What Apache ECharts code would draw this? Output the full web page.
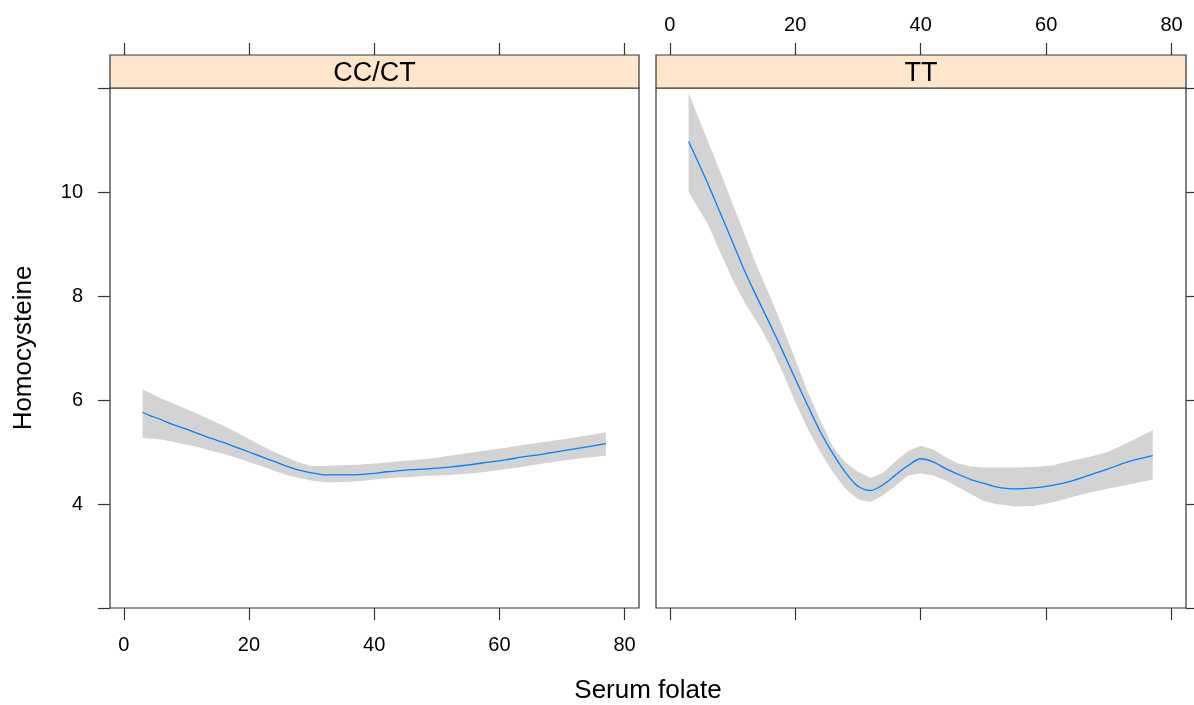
<!DOCTYPE html>
<html>
<head>
<meta charset="utf-8">
<script src="https://cdn.jsdelivr.net/npm/echarts@6/dist/echarts.min.js"></script>
<style>html,body{margin:0;padding:0;background:#fff;}#c{width:1194px;height:705px;}</style>
</head>
<body>
<div id="c"></div>
<script>
var panels = ['CC/CT', 'TT'];
var xTicks = [0, 20, 40, 60, 80];
var yTicks = [2, 4, 6, 8, 10, 12];
var yLabels = [4, 6, 8, 10];
var folateX = [3,4,6,8,10,12,14,16,18,20,22,24,26,28,30,32,34,36,38,40,42,44,46,48,50,52,55,58,61,64,67,70,73,77];
var ccFit   = [5.76,5.71,5.62,5.52,5.44,5.35,5.26,5.18,5.09,5.00,4.91,4.82,4.73,4.65,4.60,4.56,4.56,4.56,4.57,4.59,4.62,4.64,4.66,4.67,4.69,4.71,4.75,4.80,4.85,4.91,4.96,5.02,5.08,5.16];
var ccUpper = [6.20,6.15,6.03,5.93,5.83,5.72,5.61,5.50,5.38,5.25,5.12,5.00,4.90,4.80,4.73,4.73,4.74,4.75,4.76,4.78,4.80,4.82,4.84,4.86,4.89,4.93,4.98,5.03,5.08,5.14,5.19,5.24,5.30,5.38];
var ccLower = [5.27,5.26,5.24,5.19,5.14,5.09,5.02,4.96,4.89,4.81,4.73,4.64,4.56,4.50,4.45,4.42,4.42,4.43,4.44,4.47,4.49,4.51,4.52,4.54,4.55,4.56,4.58,4.62,4.67,4.72,4.78,4.83,4.88,4.93];
var ttFit   = [10.97,10.71,10.18,9.61,9.04,8.46,7.95,7.45,6.94,6.41,5.89,5.39,4.97,4.61,4.34,4.26,4.37,4.56,4.74,4.87,4.81,4.68,4.57,4.47,4.40,4.33,4.29,4.31,4.36,4.44,4.56,4.68,4.81,4.93];
var ttUpper = [11.90,11.60,11.00,10.40,9.78,9.16,8.54,7.99,7.40,6.78,6.16,5.61,5.10,4.80,4.62,4.50,4.60,4.82,5.02,5.12,5.05,4.90,4.78,4.72,4.70,4.70,4.70,4.71,4.74,4.83,4.91,5.01,5.18,5.42];
var ttLower = [10.01,9.80,9.40,8.85,8.32,7.86,7.48,7.05,6.53,5.96,5.44,5.00,4.61,4.30,4.09,4.04,4.17,4.35,4.55,4.59,4.55,4.45,4.32,4.19,4.06,4.00,3.95,3.96,4.03,4.13,4.22,4.30,4.37,4.47];

var FONT = "'Liberation Sans', Arial, sans-serif";
var AX = '#333';
var TXT = '#000';
var X0 = 110, X1 = 656, W0 = 529, W1 = 530, TOP = 88, H = 520, STRIP = 33;

function pairs(xs, ys) { return xs.map(function (x, i) { return [x, ys[i]]; }); }

function bandSeries(idx, lo, hi) {
  return {
    type: 'custom', xAxisIndex: idx, yAxisIndex: idx, silent: true, z: 1,
    data: [0],
    renderItem: function (params, api) {
      var pts = [];
      for (var i = 0; i < folateX.length; i++) pts.push(api.coord([folateX[i], hi[i]]));
      for (var j = folateX.length - 1; j >= 0; j--) pts.push(api.coord([folateX[j], lo[j]]));
      return { type: 'polygon', shape: { points: pts }, style: { fill: '#d3d3d3', stroke: null } };
    }
  };
}
function lineSeries(idx, fit) {
  return {
    type: 'line', xAxisIndex: idx, yAxisIndex: idx, data: pairs(folateX, fit),
    showSymbol: false, smooth: 0.3, z: 3, silent: true,
    lineStyle: { color: '#0080ff', width: 1.3 }
  };
}
function xAxis(grid, pos, labels, offset) {
  return {
    type: 'value', gridIndex: grid, position: pos, offset: offset || 0,
    min: -2.2, max: 82.3,
    axisLine: { show: false, onZero: false },
    splitLine: { show: false },
    axisTick: { show: true, inside: false, length: 12, customValues: xTicks, lineStyle: { color: AX, width: 1.2 } },
    axisLabel: { show: labels, customValues: xTicks, margin: pos === 'top' ? 20 : 27, color: TXT, fontFamily: FONT, fontSize: 20 }
  };
}
function yAxis(grid, pos, labels) {
  return {
    type: 'value', gridIndex: grid, position: pos, min: 2, max: 12,
    axisLine: { show: false, onZero: false },
    splitLine: { show: false },
    axisTick: { show: true, inside: false, length: 12, customValues: yTicks, lineStyle: { color: AX, width: 1.2 } },
    axisLabel: { show: labels, customValues: yLabels, margin: 27, color: TXT, fontFamily: FONT, fontSize: 20 }
  };
}

var chart = echarts.init(document.getElementById('c'), null, { renderer: 'canvas' });
chart.setOption({
  animation: false,
  backgroundColor: '#fff',
  grid: [
    { left: X0, top: TOP, width: W0, height: H, show: true, borderColor: AX, borderWidth: 1.2, backgroundColor: 'transparent' },
    { left: X1, top: TOP, width: W1, height: H, show: true, borderColor: AX, borderWidth: 1.2, backgroundColor: 'transparent' }
  ],
  xAxis: [
    xAxis(0, 'bottom', true),
    xAxis(1, 'bottom', false),
    xAxis(0, 'top', false, STRIP),
    xAxis(1, 'top', true, STRIP)
  ],
  yAxis: [
    yAxis(0, 'left', true),
    yAxis(1, 'right', false)
  ],
  graphic: [
    { type: 'rect', shape: { x: X0, y: TOP - STRIP, width: W0, height: STRIP }, style: { fill: '#ffe5cc', stroke: AX, lineWidth: 1.2 }, z: 10 },
    { type: 'rect', shape: { x: X1, y: TOP - STRIP, width: W1, height: STRIP }, style: { fill: '#ffe5cc', stroke: AX, lineWidth: 1.2 }, z: 10 },
    { type: 'text', x: X0 + W0 / 2, y: TOP - STRIP / 2 + 2, z: 11, style: { text: panels[0], font: '27px ' + FONT, fill: TXT, textAlign: 'center', textVerticalAlign: 'middle' } },
    { type: 'text', x: X1 + W1 / 2, y: TOP - STRIP / 2 + 2, z: 11, style: { text: panels[1], font: '27px ' + FONT, fill: TXT, textAlign: 'center', textVerticalAlign: 'middle' } },
    { type: 'text', x: (X0 + X1 + W1) / 2, y: 691, z: 11, style: { text: 'Serum folate', font: '26px ' + FONT, fill: TXT, textAlign: 'center', textVerticalAlign: 'middle' } },
    { type: 'text', x: 24, y: TOP + H / 2, rotation: Math.PI / 2, z: 11, style: { text: 'Homocysteine', font: '26px ' + FONT, fill: TXT, textAlign: 'center', textVerticalAlign: 'middle' } }
  ],
  series: [
    bandSeries(0, ccLower, ccUpper),
    lineSeries(0, ccFit),
    bandSeries(1, ttLower, ttUpper),
    lineSeries(1, ttFit)
  ]
});
</script>
</body>
</html>
